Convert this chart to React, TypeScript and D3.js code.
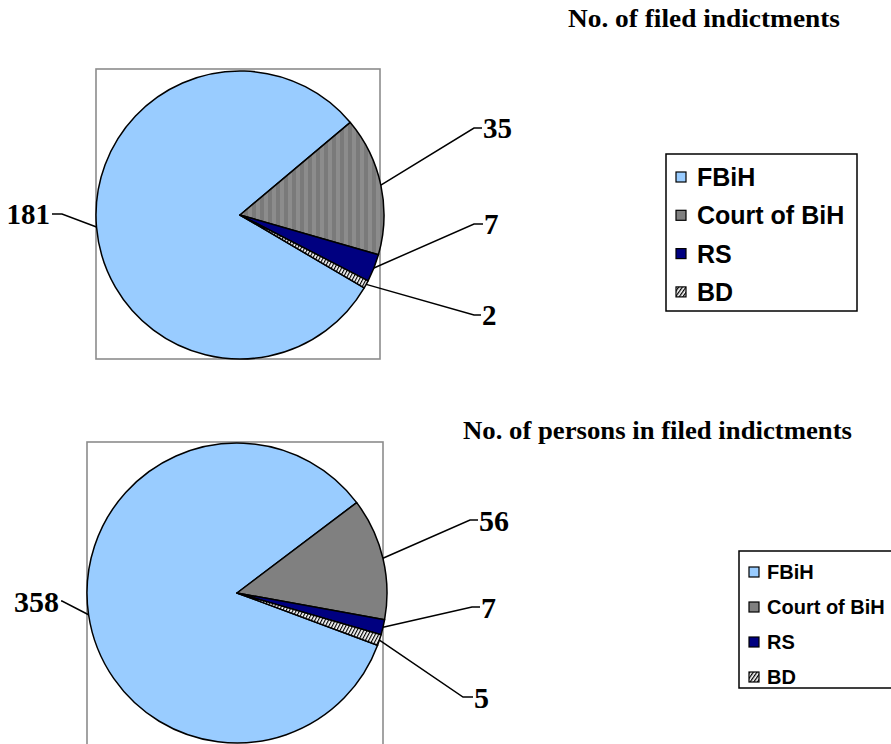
import React from "react";
import * as d3 from "d3";

const categories = ["FBiH", "Court of BiH", "RS", "BD"];
const indictments = [181, 35, 7, 2];
const persons = [358, 56, 7, 5];
const titles = ["No. of filed indictments", "No. of persons in filed indictments"];

const fills = ["#99CCFF", "#808080", "#000080", "#FFFFFF"];

type LabelPos = { ex: number; ey: number; tx: number; anchor: "start" | "end" };

interface ChartCfg {
  values: number[];
  cx: number;
  cy: number;
  r: number;
  firstAngleDeg: number;
  box: [number, number, number, number];
  title: string;
  titleX: number;
  titleY: number;
  titleLen: number;
  labelFont: number;
  labels: LabelPos[];
  legend: { x: number; y: number; w: number; h: number; row0: number; step: number; font: number; mx: number; tx: number };
  striped: boolean;
  id: string;
}

const charts: ChartCfg[] = [
  {
    values: indictments,
    cx: 240,
    cy: 215,
    r: 144,
    firstAngleDeg: 120.4,
    box: [96, 69, 284, 290],
    title: titles[0],
    titleX: 568,
    titleY: 27,
    titleLen: 272,
    labelFont: 29,
    labels: [
      { ex: 62, ey: 214, tx: 50, anchor: "end" },
      { ex: 474, ey: 128, tx: 483, anchor: "start" },
      { ex: 474, ey: 224, tx: 484, anchor: "start" },
      { ex: 474, ey: 315, tx: 482, anchor: "start" },
    ],
    legend: { x: 666, y: 154, w: 191, h: 157, row0: 177, step: 38.3, font: 25, mx: 676, tx: 697 },
    striped: true,
    id: "a",
  },
  {
    values: persons,
    cx: 237,
    cy: 593,
    r: 150,
    firstAngleDeg: 110.4,
    box: [87, 442, 296, 310],
    title: titles[1],
    titleX: 463,
    titleY: 439,
    titleLen: 389,
    labelFont: 30,
    labels: [
      { ex: 62, ey: 601, tx: 59, anchor: "end" },
      { ex: 470, ey: 520, tx: 479, anchor: "start" },
      { ex: 472, ey: 607, tx: 481, anchor: "start" },
      { ex: 463, ey: 697, tx: 474, anchor: "start" },
    ],
    legend: { x: 739, y: 551, w: 170, h: 137, row0: 572, step: 35, font: 20, mx: 749, tx: 767 },
    striped: false,
    id: "b",
  },
];

function PieChart({ c }: { c: ChartCfg }) {
  const start = (c.firstAngleDeg * Math.PI) / 180;
  const pie = d3
    .pie<number>()
    .sort(null)
    .value((d) => d)
    .startAngle(start)
    .endAngle(start + 2 * Math.PI);
  const arcs = pie(c.values);
  const arc = d3.arc<d3.PieArcDatum<number>>().innerRadius(0).outerRadius(c.r);
  const fillFor = (i: number) => {
    if (i === 1 && c.striped) return `url(#stripe-${c.id})`;
    if (i === 3) return `url(#bd-${c.id})`;
    return fills[i];
  };
  const [bx, by, bw, bh] = c.box;
  const lg = c.legend;
  return (
    <g>
      <defs>
        <pattern id={`stripe-${c.id}`} patternUnits="userSpaceOnUse" width={8} height={8}>
          <rect width={8} height={8} fill="#7a7a7a" />
          <rect width={4} height={8} fill="#8c8c8c" />
        </pattern>
        <pattern id={`bd-${c.id}`} patternUnits="userSpaceOnUse" width={3} height={3} patternTransform="rotate(28)">
          <rect width={3} height={3} fill="#ffffff" />
          <rect width={1.2} height={3} fill="#000000" />
        </pattern>
        <pattern id={`bdl-${c.id}`} patternUnits="userSpaceOnUse" width={3} height={3} patternTransform="rotate(35)">
          <rect width={3} height={3} fill="#ffffff" />
          <rect width={1.3} height={3} fill="#000000" />
        </pattern>
      </defs>
      <rect x={bx} y={by} width={bw} height={bh} fill="none" stroke="#8c8c8c" strokeWidth={1.6} />
      <g transform={`translate(${c.cx},${c.cy})`}>
        {arcs.map((a, i) => (
          <path key={i} d={arc(a) || ""} fill={fillFor(i)} stroke="#000" strokeWidth={1.5} strokeLinejoin="round" />
        ))}
      </g>
      {arcs.map((a, i) => {
        const mid = (a.startAngle + a.endAngle) / 2;
        const sx = c.cx + c.r * Math.sin(mid);
        const sy = c.cy - c.r * Math.cos(mid);
        const L = c.labels[i];
        const dashEnd = L.anchor === "start" ? L.tx - 1 : L.tx + 2;
        return (
          <g key={`l${i}`}>
            <polyline
              points={`${sx},${sy} ${L.ex},${L.ey} ${dashEnd},${L.ey}`}
              fill="none"
              stroke="#000"
              strokeWidth={1.5}
            />
            <text
              x={L.tx}
              y={L.ey + c.labelFont * 0.36}
              textAnchor={L.anchor}
              fontFamily="'Liberation Serif', 'Times New Roman', serif"
              fontWeight="bold"
              fontSize={c.labelFont}
              fill="#000"
            >
              {String(c.values[i])}
            </text>
          </g>
        );
      })}
      <text
        x={c.titleX}
        y={c.titleY}
        fontFamily="'Liberation Serif', 'Times New Roman', serif"
        fontWeight="bold"
        fontSize={26}
        textLength={c.titleLen}
        lengthAdjust="spacingAndGlyphs"
        fill="#000"
      >
        {c.title}
      </text>
      <rect x={lg.x} y={lg.y} width={lg.w} height={lg.h} fill="#fff" stroke="#000" strokeWidth={1.5} />
      {categories.map((cat, i) => {
        const cy = lg.row0 + i * lg.step;
        const f = i === 3 ? `url(#bdl-${c.id})` : fills[i];
        return (
          <g key={cat}>
            <rect x={lg.mx} y={cy - 5} width={10} height={10} fill={f} stroke="#000" strokeWidth={1.2} />
            <text
              x={lg.tx}
              y={cy + lg.font * 0.36}
              fontFamily="'Liberation Sans', Arial, sans-serif"
              fontWeight="bold"
              fontSize={lg.font}
              fill="#000"
            >
              {cat}
            </text>
          </g>
        );
      })}
    </g>
  );
}

export default function App() {
  return (
    <svg
      width={891}
      height={744}
      viewBox="0 0 891 744"
      style={{ position: "absolute", left: 0, top: 0, background: "#fff" }}
    >
      <rect width={891} height={744} fill="#fff" />
      {charts.map((c) => (
        <PieChart key={c.id} c={c} />
      ))}
    </svg>
  );
}
